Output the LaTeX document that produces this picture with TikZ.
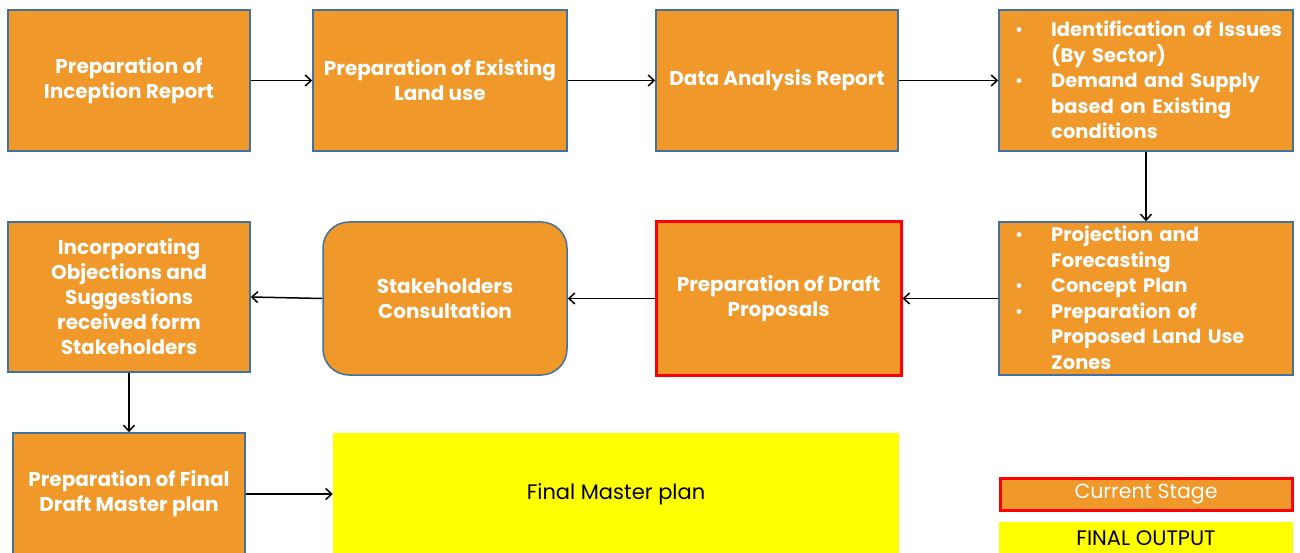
\documentclass[tikz,border=0pt]{standalone}
\usepackage{fontspec}
\setmainfont{Poppins}
\usetikzlibrary{arrows.meta}
\definecolor{org}{HTML}{F0982A}
\definecolor{bdr}{HTML}{41719C}
\definecolor{yel}{HTML}{FFFF00}
\definecolor{redb}{HTML}{FF0000}
\newcommand{\bl}{\makebox[36pt][l]{\normalfont\textbullet}}
\begin{document}
\begin{tikzpicture}[x=1pt,y=-1pt,
  box/.style={draw=bdr, line width=1.5pt, fill=org, text=white,
    font=\fontsize{20}{25}\selectfont\bfseries, align=center, inner sep=0pt},
  lst/.style={text=white, font=\fontsize{19.5}{25.5}\selectfont\bfseries,
    align=left, text width=290pt, inner sep=0pt},
  arr/.style={-{Straight Barb[length=6pt,width=11pt]}, line width=1.5pt}]
\useasboundingbox (0,0) rectangle (1300,553);
\fill[white] (0,0) rectangle (1300,553);
% row 1
\node[box, minimum width=242, minimum height=141] (a) at (129,80.5) {Preparation of\\Inception Report};
\node[box, minimum width=254, minimum height=141] (b) at (440,80.5) {Preparation of Existing\\Land use};
\node[box, minimum width=242, minimum height=141] (c) at (777,80.5) {Data Analysis Report};
\node[box, minimum width=294, minimum height=141] (d) at (1146,80.5) {};
\node[lst, anchor=west] (dt) at (1015,80) {\bl Identification of Issues\\\hspace*{36pt}(By Sector)\\\bl Demand and Supply\\\hspace*{36pt}based on Existing\\\hspace*{36pt}conditions};
% row 2
\node[box, minimum width=294, minimum height=153] (e) at (1146,298.5) {};
\node[lst, anchor=west] (et) at (1015,298) {\bl Projection and\\\hspace*{36pt}Forecasting\\\bl Concept Plan\\\bl Preparation of\\\hspace*{36pt}Proposed Land Use\\\hspace*{36pt}Zones};
\node[box, draw=redb, line width=3pt, minimum width=245, minimum height=153] (f) at (778.5,298.5) {Preparation of Draft\\Proposals};
\node[box, rounded corners=26pt, minimum width=244, minimum height=153] (g) at (445,298.5) {Stakeholders\\Consultation};
\node[box, minimum width=242, minimum height=150] (h) at (129,297) {Incorporating\\Objections and\\Suggestions\\received form\\Stakeholders};
% row 3
\node[box, minimum width=232, minimum height=122] (i) at (129,494) {Preparation of Final\\Draft Master plan};
\node[fill=yel, minimum width=566, minimum height=122, inner sep=0pt,
  font=\fontsize{21}{25}\selectfont] (j) at (616,494) {\raisebox{-2pt}{Final Master plan}};
% legend
\node[draw=redb, line width=3pt, fill=org, text=white, minimum width=292, minimum height=32, inner sep=0pt,
  font=\fontsize{20.5}{22}\selectfont] (k) at (1146,494) {\raisebox{-2pt}{Current Stage}};
\node[fill=yel, minimum width=294, minimum height=33, inner sep=0pt,
  font=\fontsize{21}{22}\selectfont] (l) at (1146,538.5) {FINAL OUTPUT};
% connectors
\draw[arr] (a.east) -- (b.west);
\draw[arr] (b.east) -- (c.west);
\draw[arr] (c.east) -- (d.west);
\draw[arr] (d.south) -- (e.north);
\draw[arr] (e.west) -- (f.east);
\draw[arr] (f.west) -- (g.east);
\draw[arr] (g.west) -- (h.east);
\draw[arr] (h.south) -- (i.north);
\draw[arr] (i.east) -- (j.west);
\end{tikzpicture}
\end{document}
